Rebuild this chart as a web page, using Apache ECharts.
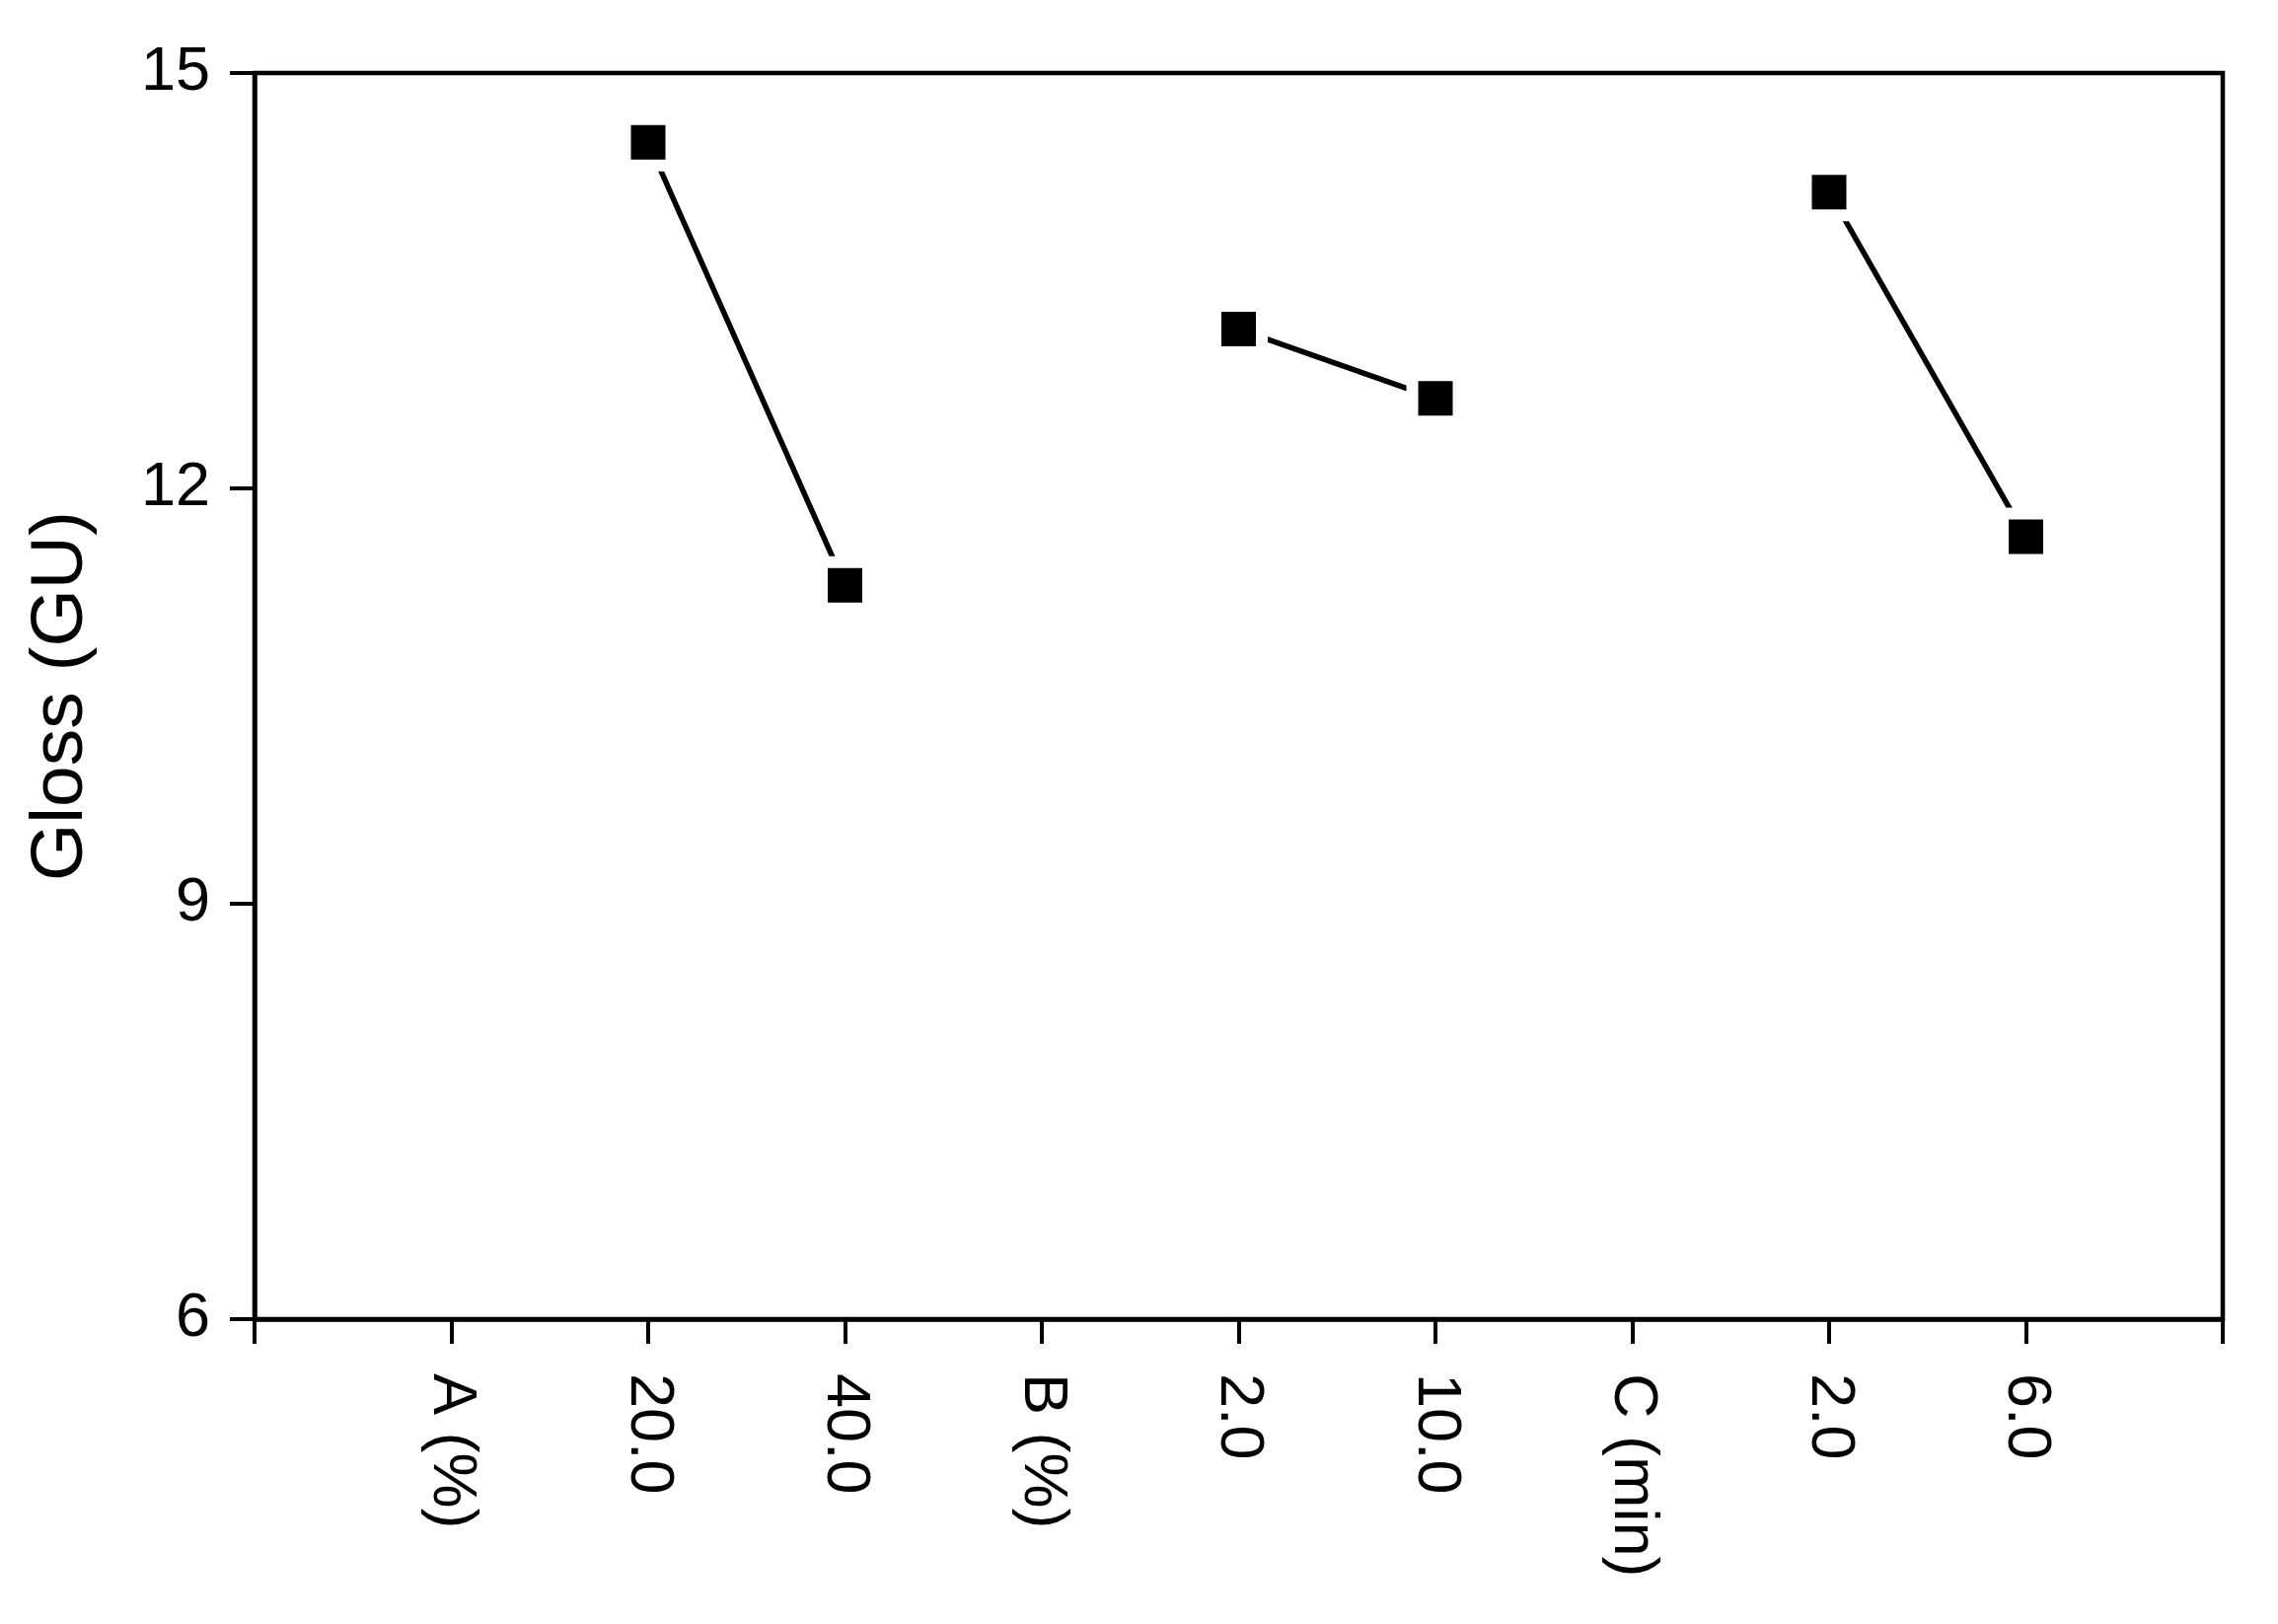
<!DOCTYPE html>
<html>
<head>
<meta charset="utf-8">
<script src="https://cdn.jsdelivr.net/npm/echarts@6/dist/echarts.min.js"></script>
<style>
html,body{margin:0;padding:0;background:#fff;}
#chart{width:2309px;height:1646px;}
</style>
</head>
<body>
<div id="chart"></div>
<script>
// Tick labels along the bottom axis (positions 1..9; 0 and 10 are blank ends)
const xLabels = ['A (%)', '20.0', '40.0', 'B (%)', '2.0', '10.0', 'C (min)', '2.0', '6.0'];
// Factor level positions on the x axis
const posA = [2, 3];
const posB = [5, 6];
const posC = [8, 9];
// Mean gloss (GU) at each level
const glossA = [14.5, 11.3];
const glossB = [13.15, 12.65];
const glossC = [14.14, 11.65];
// Y-axis ticks
const yMin = 6, yMax = 15, yStep = 3;

const FONT = "'Liberation Sans', Arial, sans-serif";

function pairs(xs, ys) { return xs.map((x, i) => [x, ys[i]]); }

function mkSeries(xs, ys) {
  return {
    type: 'line',
    data: pairs(xs, ys),
    symbol: 'rect',
    symbolSize: 47,
    itemStyle: { color: '#000', borderColor: '#fff', borderWidth: 12 },
    lineStyle: { color: '#000', width: 5.5, cap: 'round' },
    emphasis: { disabled: true },
    z: 3
  };
}

const chart = echarts.init(document.getElementById('chart'));
chart.setOption({
  animation: false,
  backgroundColor: '#fff',
  grid: {
    left: 258, right: 56, top: 74, bottom: 309,
    show: true, borderColor: '#000', borderWidth: 4.5
  },
  xAxis: {
    type: 'value',
    min: 0, max: xLabels.length + 1, interval: 1,
    splitLine: { show: false },
    axisLine: { show: true, lineStyle: { color: '#000', width: 4.5 } },
    axisTick: { show: true, inside: false, length: 25, lineStyle: { color: '#000', width: 4 } },
    axisLabel: {
      show: true,
      rotate: -90,
      margin: 55,
      color: '#000',
      fontFamily: FONT,
      fontSize: 63,
      showMinLabel: true, showMaxLabel: true,
      formatter: v => (v >= 1 && v <= xLabels.length) ? xLabels[v - 1] : ''
    }
  },
  yAxis: {
    type: 'value',
    min: yMin, max: yMax, interval: yStep,
    name: 'Gloss (GU)',
    nameLocation: 'middle',
    nameGap: 158,
    nameRotate: 90,
    nameTextStyle: { color: '#000', fontFamily: FONT, fontSize: 75 },
    splitLine: { show: false },
    axisLine: { show: true, lineStyle: { color: '#000', width: 4.5 } },
    axisTick: { show: true, inside: false, length: 25, lineStyle: { color: '#000', width: 4 } },
    axisLabel: { color: '#000', fontFamily: FONT, fontSize: 63, margin: 45 }
  },
  series: [
    mkSeries(posA, glossA),
    mkSeries(posB, glossB),
    mkSeries(posC, glossC)
  ]
});
</script>
</body>
</html>
